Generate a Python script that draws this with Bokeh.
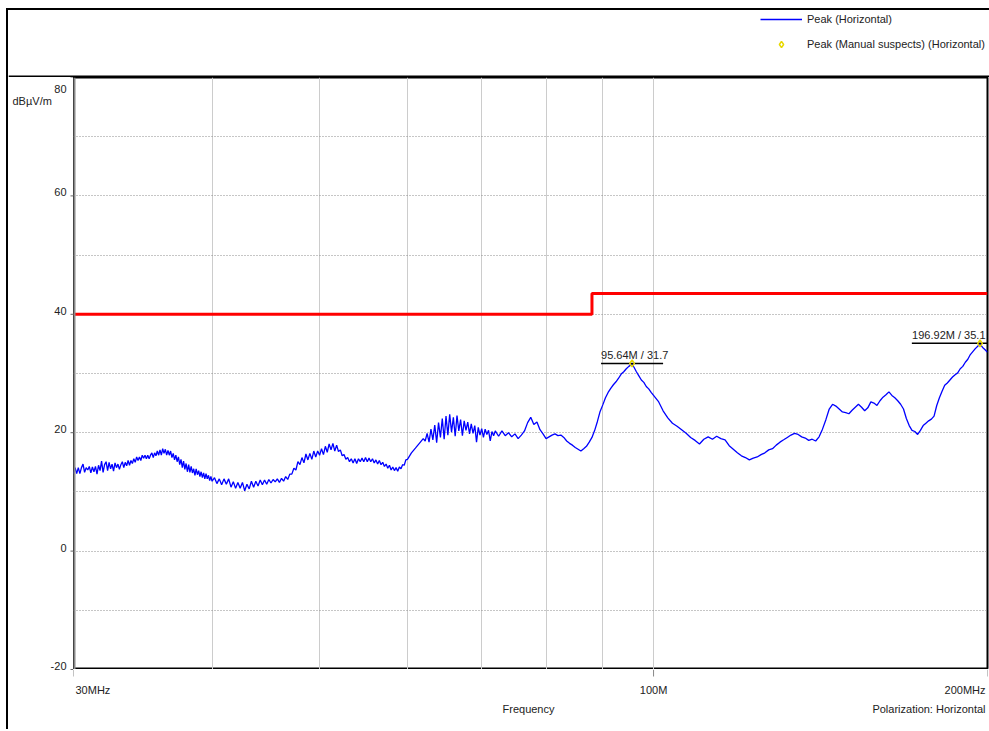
import numpy as np
from bokeh.plotting import figure
from bokeh.models import (Range1d, FixedTicker, Legend, LegendItem, Span, Div)
from bokeh.layouts import column, row
from bokeh.embed import file_html
from bokeh.resources import INLINE
from bokeh.core.properties import value

# ---------------- data ----------------
freq_a = [30.0, 30.1, 30.2, 30.3, 30.4, 30.5, 30.6, 30.7, 30.8, 30.9,
          31.0, 31.1, 31.2, 31.3, 31.4, 31.5, 31.6, 31.7, 31.8, 31.9,
          32.0, 32.1, 32.2, 32.3, 32.4, 32.5, 32.6, 32.7, 32.8, 32.9,
          33.0, 33.1, 33.2, 33.3, 33.4, 33.5, 33.6, 33.7, 33.8, 33.9,
          34.0, 34.1, 34.2, 34.3, 34.4, 34.5, 34.6, 34.7, 34.8, 34.9,
          35.0, 35.1, 35.2, 35.3, 35.4, 35.5, 35.6, 35.7, 35.8, 35.9,
          36.0, 36.1, 36.2, 36.3, 36.4, 36.5, 36.6, 36.7, 36.8, 36.9,
          37.0, 37.1, 37.2, 37.3, 37.4, 37.5, 37.6, 37.7, 37.8, 37.9,
          38.0, 38.1, 38.2, 38.3, 38.4, 38.5, 38.6, 38.7, 38.8, 38.9,
          39.0, 39.1, 39.2, 39.3, 39.4, 39.5, 39.6, 39.7, 39.8, 39.9, 40.0]
level_a = [13.1, 14.1, 13.1, 14.1, 13.1, 14.1, 14.7, 13.3, 14.1, 13.7,
           14.3, 13.2, 14.2, 13.4, 14.3, 13.0, 14.5, 13.6, 15.2, 13.3,
           14.6, 15.1, 13.6, 15.0, 13.9, 14.7, 13.5, 14.9, 14.1, 14.7,
           13.8, 14.6, 15.1, 14.1, 15.0, 14.4, 15.3, 14.5, 15.3, 14.8,
           15.6, 15.0, 15.9, 15.3, 15.9, 15.3, 16.2, 15.7, 16.2, 15.6,
           16.2, 15.6, 16.2, 16.6, 15.8, 16.6, 16.1, 16.9, 16.2, 17.1,
           16.2, 17.3, 16.5, 17.2, 16.2, 17.0, 16.2, 16.9, 15.8, 16.5,
           15.4, 16.2, 15.1, 15.9, 14.6, 15.5, 14.1, 15.2, 13.8, 14.8,
           13.4, 14.6, 13.3, 14.3, 13.2, 13.9, 12.8, 13.9, 12.9, 13.6,
           12.6, 13.4, 12.4, 13.2, 12.2, 13.1, 12.2, 12.8, 11.9, 12.6, 11.8]

freq_b = [40.2, 40.4, 40.6, 40.8, 41.0, 41.2, 41.4, 41.6, 41.8, 42.0,
          42.2, 42.4, 42.6, 42.8, 43.0, 43.2, 43.4, 43.6, 43.8, 44.0,
          44.2, 44.4, 44.6, 44.8, 45.0, 45.2, 45.4, 45.6, 45.8, 46.0,
          46.2, 46.4, 46.6, 46.8, 47.0, 47.2, 47.4, 47.6, 47.8, 48.0,
          48.2, 48.4, 48.6, 48.8, 49.0, 49.2, 49.4, 49.6, 49.8, 50.0,
          50.2, 50.4, 50.6, 50.8, 51.0, 51.2, 51.4, 51.6, 51.8, 52.0,
          52.2, 52.4, 52.6, 52.8, 53.0, 53.2, 53.4, 53.6, 53.8, 54.0,
          54.2, 54.4, 54.6, 54.8, 55.0, 55.2, 55.4, 55.6, 55.8, 56.0,
          56.2, 56.4, 56.6, 56.8, 57.0, 57.2, 57.4, 57.6, 57.8, 58.0,
          58.2, 58.4, 58.6, 58.8, 59.0, 59.2, 59.4, 59.6, 59.8, 60.0]
level_b = [12.4, 11.4, 12.2, 11.2, 12.2, 11.3, 12.2, 10.8, 11.7, 10.6,
           11.6, 10.6, 11.6, 10.2, 11.3, 10.5, 11.8, 10.8, 11.8, 11.0,
           12.0, 11.2, 12.0, 11.3, 12.1, 11.5, 12.1, 11.7, 12.2, 11.6,
           12.3, 11.8, 12.6, 12.1, 13.0, 13.0, 14.0, 13.7, 15.1, 14.6,
           15.8, 14.9, 16.4, 15.4, 16.5, 15.5, 16.9, 15.9, 16.9, 16.2,
           17.3, 16.3, 17.7, 16.7, 18.1, 17.1, 18.2, 16.9, 17.9, 16.8,
           17.1, 16.1, 16.3, 15.5, 15.8, 15.1, 15.6, 14.9, 15.6, 14.8,
           15.6, 15.1, 15.7, 15.1, 15.8, 15.1, 15.7, 15.1, 15.6, 14.9,
           15.4, 14.7, 15.3, 14.6, 15.0, 14.3, 14.7, 14.0, 14.5, 13.7,
           14.2, 13.6, 14.1, 13.5, 14.2, 13.9, 14.6, 14.5, 15.4, 15.5]

freq_c = [60.5, 61.0, 61.5, 62.0,
          62.25, 62.5, 62.75, 63.0, 63.25, 63.5, 63.75, 64.0, 64.25, 64.5,
          64.75, 65.0, 65.25, 65.5, 65.75, 66.0, 66.25, 66.5, 66.75, 67.0,
          67.25, 67.5, 67.75, 68.0, 68.25, 68.5, 68.75, 69.0, 69.25, 69.5,
          69.75, 70.0, 70.25, 70.5, 70.75, 71.0, 71.25, 71.5, 71.75, 72.0]
level_c = [16.6, 17.4, 18.2, 19.0,
           18.6, 19.9, 18.4, 20.6, 18.8, 21.3, 18.3, 21.7, 19.2, 22.4,
           18.9, 22.8, 19.6, 23.1, 20.1, 22.6, 19.4, 22.9, 20.3, 22.2,
           19.5, 22.0, 20.4, 21.8, 19.8, 21.5, 19.9, 21.2, 18.4, 20.9,
           19.6, 20.7, 19.2, 20.6, 19.7, 20.4, 18.6, 20.2, 19.5, 20.3]

freq_d = [72.5, 73.0, 73.5, 74.0, 74.5, 75.0, 75.5, 76.0, 76.5, 77.0,
          77.5, 78.0, 78.5, 79.0, 79.5, 80.0, 80.5, 81.0, 81.5, 82.0,
          82.5, 83.0, 83.5, 84.0, 84.5, 85.0, 85.5, 86.0, 86.5, 87.0,
          87.5, 88.0, 88.5, 89.0, 89.5, 90.0, 90.5, 91.0, 91.5, 92.0,
          92.5, 93.0, 93.5, 94.0, 94.5, 95.0, 95.5, 95.64, 96.0, 96.5,
          97.0, 97.5, 98.0, 98.5, 99.0, 99.5, 100.0]
level_d = [19.4, 20.3, 19.5, 20.0, 19.3, 19.8, 19.0, 19.6, 20.3, 21.7,
           22.6, 21.4, 21.8, 20.5, 19.8, 19.0, 19.3, 19.6, 19.8, 19.5,
           19.6, 19.2, 18.6, 18.2, 17.9, 17.5, 17.2, 16.9, 17.3, 17.7,
           18.4, 19.2, 20.4, 21.9, 23.6, 24.7, 25.9, 26.8, 27.5, 28.1,
           28.6, 29.2, 29.9, 30.3, 30.8, 31.2, 31.5, 31.7, 31.1, 30.3,
           29.6, 28.9, 28.5, 27.8, 27.4, 26.8, 26.3]

freq_e = [101, 102, 103, 104, 105, 106, 107, 108, 109, 110,
          111, 112, 113, 114, 115, 116, 117, 118, 119, 120,
          121, 122, 123, 124, 125, 126, 127, 128, 129, 130,
          131, 132, 133, 134, 135, 136, 137, 138, 139, 140,
          141, 142, 143, 144, 145, 146, 147, 148, 149, 150,
          151, 152, 153, 154, 155, 156, 157, 158, 159, 160,
          161, 162, 163, 164, 165, 166, 167, 168, 169, 170,
          171, 172, 173, 174, 175, 176, 177, 178, 179, 180,
          181, 182, 183, 184, 185, 186, 187, 188, 189, 190,
          191, 192, 193, 194, 195, 196, 196.92, 197, 198, 199, 200]
level_e = [25.3, 23.7, 22.5, 21.6, 21.1, 20.5, 19.9, 19.2, 18.7, 18.1,
           18.9, 19.3, 18.9, 19.4, 19.0, 18.8, 17.8, 17.2, 16.6, 16.1,
           15.8, 15.4, 15.7, 15.9, 16.3, 16.6, 17.1, 17.3, 17.9, 18.4,
           18.8, 19.2, 19.6, 19.9, 19.7, 19.3, 19.1, 18.7, 18.9, 18.6,
           19.3, 20.6, 22.2, 24.0, 24.8, 24.5, 24.0, 23.5, 23.4, 23.2,
           23.8, 24.3, 24.8, 24.3, 23.7, 24.2, 25.2, 25.0, 24.6, 25.4,
           26.0, 26.4, 26.9, 26.3, 25.9, 25.4, 24.8, 24.0, 22.4, 21.2,
           20.4, 20.2, 19.7, 20.4, 21.2, 21.6, 22.0, 22.3, 22.8, 24.6,
           25.9, 27.0, 28.0, 28.4, 28.9, 29.4, 29.8, 30.1, 30.8, 31.2,
           31.9, 32.4, 33.2, 33.7, 34.2, 34.6, 35.1, 34.9, 34.4, 34.0, 33.6]

limit_freq = [30, 88, 88, 200]
limit_level = [40, 40, 43.5, 43.5]

suspect_freq = [95.64, 196.92]
suspect_level = [31.7, 35.1]
suspect_text = ["95.64M / 31.7", "196.92M / 35.1"]

x_ticks = [30, 100, 200]
x_tick_labels = ["30MHz", "100M", "200MHz"]
x_grid_ticks = [40, 50, 60, 70, 80, 90, 100]
y_ticks = [-20, 0, 20, 40, 60, 80]
y_grid_ticks = [-10, 0, 10, 20, 30, 40, 50, 60, 70]
y_unit = "dBµV/m"
x_title = "Frequency"
polarization = "Polarization: Horizontal"
series_names = ["Peak (Horizontal)", "Peak (Manual suspects) (Horizontal)"]

# ---------------- style ----------------
FONT = "Liberation Sans"
FS = "11px"
TXT = "#222222"
BLUE = "#0000ff"
RED = "#ff0000"
YELLOW = "#e8d800"

freq = freq_a + freq_b + freq_c + freq_d + freq_e
level = level_a + level_b + level_c + level_d + level_e

FRAME_H = 592          # plot-area height in px
BOTTOM_H = 60          # label strip under the plot area
DB_PER_PX = (80 - (-20)) / FRAME_H
X_START, X_END = 30, 200


def bare(fig):
    fig.grid.visible = False
    return fig


# ---------------- legend panel ----------------
top = bare(figure(width=981, height=67, output_backend="svg", toolbar_location=None,
                  x_range=Range1d(0, 1), y_range=Range1d(0, 1), min_border=0,
                  x_axis_location=None, y_axis_location=None, outline_line_color=None))
top.add_layout(Span(location=0, dimension="width", line_color="black", line_width=4))
# legend renderers (their data lie outside this panel's ranges, only the key shows)
r_leg_line = top.line(freq, level, line_color=BLUE, line_width=1.3)
r_leg_mark = top.scatter(suspect_freq, suspect_level, marker="diamond", size=8,
                         fill_color=None, line_color=YELLOW, line_width=1.5)
legend = Legend(items=[LegendItem(label=series_names[0], renderers=[r_leg_line]),
                       LegendItem(label=series_names[1], renderers=[r_leg_mark])],
                location=(752, 25), margin=0, padding=0, spacing=9,
                glyph_width=42, glyph_height=16, label_height=16, label_standoff=5,
                border_line_color=None, background_fill_alpha=0,
                label_text_font=FONT, label_text_font_size=FS, label_text_color=TXT)
top.add_layout(legend)

# ---------------- main plot area ----------------
p = figure(width=916, height=FRAME_H, output_backend="svg", toolbar_location=None,
           x_axis_type="log", x_range=Range1d(X_START, X_END), y_range=Range1d(-20, 80),
           x_axis_location=None, y_axis_location=None,
           min_border=0, min_border_right=2,
           outline_line_color="black", outline_line_width=2)

p.xgrid.ticker = FixedTicker(ticks=x_grid_ticks)
p.xgrid.grid_line_color = "#cccccc"
p.xgrid.grid_line_width = 1
p.ygrid.ticker = FixedTicker(ticks=y_grid_ticks)
p.ygrid.grid_line_color = "#8c8c8c"
p.ygrid.grid_line_dash = "1 2"
p.ygrid.grid_line_width = 1

p.add_layout(Span(location=X_START, dimension="height", line_color="#8a8a8a", line_width=4))

p.line(limit_freq, limit_level, line_color=RED, line_width=3)
p.line(freq, level, line_color=BLUE, line_width=1.3)

# suspect markers with underlined labels
k = 1.0665      # ~31 px either side of the marker on this log axis
k_text = 1.17   # ~75 px: width of a label when it has to sit against the right edge
for f, lv, t in zip(suspect_freq, suspect_level, suspect_text):
    if f * k <= X_END:
        x0, x1, xt, al, dx = f / k, f * k, f / k, "left", 0
    else:
        x0, x1, xt, al, dx = X_END / k_text, X_END, X_END, "right", -2
    p.segment(x0=[x0], y0=[lv], x1=[x1], y1=[lv], line_color="black", line_width=1.5)
    p.text(x=[xt], y=[lv], text=[t], x_offset=dx, y_offset=-2, text_align=al,
           text_baseline="bottom", text_font=value(FONT), text_font_size=value(FS),
           text_color=TXT)
p.scatter(suspect_freq, suspect_level, marker="diamond", size=7,
          fill_color=None, line_color=YELLOW, line_width=1.5)

# ---------------- y label strip ----------------
left = bare(figure(width=65, height=FRAME_H + BOTTOM_H, output_backend="svg",
                   toolbar_location=None, x_range=Range1d(0, 65),
                   y_range=Range1d(-20 - BOTTOM_H * DB_PER_PX, 80), min_border=0,
                   x_axis_location=None, y_axis_location=None, outline_line_color=None))
ylab_y = [v + 3.5 * DB_PER_PX if v < 80 else v - 11 * DB_PER_PX for v in y_ticks]
left.text(x=[58] * len(y_ticks), y=ylab_y, text=[str(v) for v in y_ticks],
          text_align="right", text_baseline="middle",
          text_font=value(FONT), text_font_size=value(FS), text_color=TXT)
left.segment(x0=[62] * len(y_ticks), y0=y_ticks, x1=[65] * len(y_ticks), y1=y_ticks,
             line_color="#666666", line_width=1)
left.text(x=[4], y=[80 - 23 * DB_PER_PX], text=[y_unit], text_align="left",
          text_baseline="middle", text_font=value(FONT), text_font_size=value(FS),
          text_color=TXT)

# ---------------- x label strip ----------------
bottom = bare(figure(width=916, height=BOTTOM_H, output_backend="svg", toolbar_location=None,
                     x_axis_type="log", x_range=p.x_range, y_range=Range1d(0, BOTTOM_H),
                     min_border=0, min_border_right=2,
                     x_axis_location=None, y_axis_location=None, outline_line_color=None))
bottom.segment(x0=x_ticks, y0=[BOTTOM_H] * len(x_ticks), x1=x_ticks,
               y1=[BOTTOM_H - 7] * len(x_ticks), line_color="#888888", line_width=1)
for f, t, al, dx in zip(x_ticks, x_tick_labels, ["left", "center", "right"], [2, 0, -2]):
    bottom.text(x=[f], y=[BOTTOM_H - 20], text=[t], x_offset=dx, text_align=al,
                text_baseline="middle", text_font=value(FONT), text_font_size=value(FS),
                text_color=TXT)
bottom.text(x=[float(np.sqrt(X_START * X_END))], y=[BOTTOM_H - 39], text=[x_title],
            x_offset=-2, text_align="center", text_baseline="middle",
            text_font=value(FONT), text_font_size=value(FS), text_color=TXT)
bottom.text(x=[X_END], y=[BOTTOM_H - 39], text=[polarization], x_offset=-2,
            text_align="right", text_baseline="middle", text_font=value(FONT),
            text_font_size=value(FS), text_color=TXT)

# ---------------- outer frame ----------------
topbar = Div(text="", width=983, height=2, margin=(0, 0, 0, 0),
             styles={"background-color": "black"})
leftbar = Div(text="", width=2, height=67 + FRAME_H + BOTTOM_H, margin=(0, 0, 0, 0),
              styles={"background-color": "black"})
layout = column(topbar,
                row(leftbar, column(top, row(left, column(p, bottom)))),
                margin=(8, 0, 0, 6))

open("out.html", "w").write(file_html(layout, INLINE))
